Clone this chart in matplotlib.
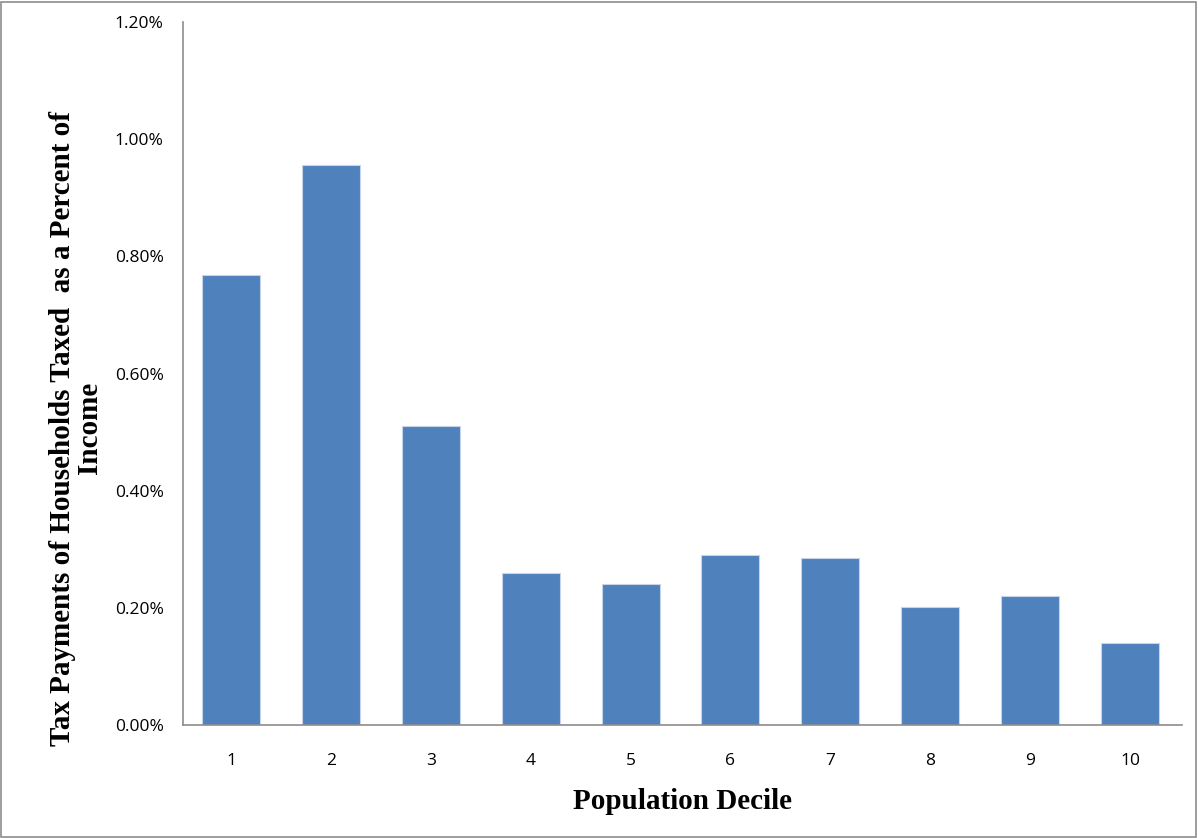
import matplotlib.pyplot as plt
from matplotlib.ticker import PercentFormatter
from matplotlib.patches import Rectangle

deciles = [1, 2, 3, 4, 5, 6, 7, 8, 9, 10]
tax_share = [0.768, 0.956, 0.510, 0.259, 0.241, 0.290, 0.285, 0.201, 0.220, 0.140]
y_ticks = [0.0, 0.2, 0.4, 0.6, 0.8, 1.0, 1.2]

fig = plt.figure(figsize=(11.98, 8.38), dpi=100)
ax = fig.add_axes([183 / 1198, (838 - 725) / 838, (1182 - 183) / 1198, (725 - 22) / 838])

ax.bar(deciles, tax_share, width=0.58, color='#4F81BD', edgecolor='#C6D5EA', linewidth=0.8)

ax.set_xlim(0.52, 10.52)
ax.set_ylim(0, 1.2)
ax.set_xticks(deciles)
ax.set_yticks(y_ticks)
ax.yaxis.set_major_formatter(PercentFormatter(decimals=2))
ax.tick_params(length=0, labelsize=12.5, colors='black')
ax.tick_params(axis='x', pad=20)
ax.tick_params(axis='y', pad=14)
for lab in ax.get_xticklabels() + ax.get_yticklabels():
    lab.set_family('Open Sans')

for side in ['top', 'right']:
    ax.spines[side].set_visible(False)
for side in ['left', 'bottom']:
    ax.spines[side].set_color('#8C8C8C')
    ax.spines[side].set_linewidth(1.2)

ax.set_xlabel('Population Decile', family='Liberation Serif', fontweight='bold',
              fontsize=21, labelpad=14)
fig.text(76 / 1198, 1 - 428 / 838,
         'Tax Payments of Households Taxed  as a Percent of\nIncome',
         rotation=90, ha='center', va='center', family='Liberation Serif',
         fontweight='bold', fontsize=21, linespacing=1.0, multialignment='center')

# thin frame round the whole figure
fig.patches.append(Rectangle((0.001, 0.001), 0.997, 0.997, transform=fig.transFigure,
                             fill=False, edgecolor='#8C8C8C', linewidth=1.2))

fig.savefig('out.png', dpi=100)
